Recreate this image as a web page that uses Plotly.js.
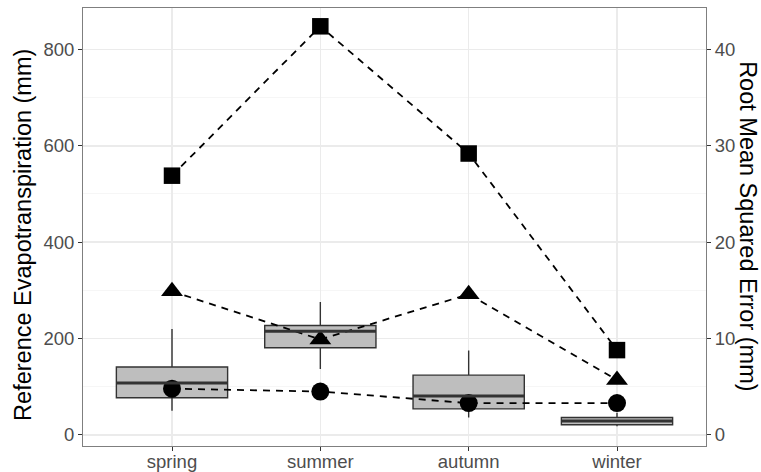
<!DOCTYPE html>
<html>
<head>
<meta charset="utf-8">
<script src="https://cdn.plot.ly/plotly-3.0.1.min.js"></script>
<style>html,body{margin:0;padding:0;background:#fff;}#chart{width:761px;height:472px;}</style>
</head>
<body>
<div id="chart"></div>
<script>
// Categories
var seasons = ["spring", "summer", "autumn", "winter"];
// Box statistics of reference evapotranspiration (mm)
var etLower  = [50, 137, 36, 18];
var etQ1     = [77, 181, 54, 21];
var etMedian = [108, 215, 81, 29];
var etQ3     = [141, 227, 124, 36];
var etUpper  = [220, 276, 175, 46];
// Root mean squared error series (mm)
var rmseCircle   = [4.8, 4.5, 3.3, 3.3];
var rmseTriangle = [14.9, 9.9, 14.6, 5.7];
var rmseSquare   = [26.9, 42.4, 29.2, 8.8];

var yRange = [-23, 886];
var ratio = 20;

var font = "Liberation Sans, Arial, sans-serif";

var traces = [
  {
    type: "box", x: seasons, q1: etQ1, median: etMedian, q3: etQ3,
    lowerfence: etLower, upperfence: etUpper,
    fillcolor: "#BEBEBE", line: {color: "#333333", width: 1.4},
    whiskerwidth: 0, width: 0.75, boxpoints: false, showlegend: false,
    hoverinfo: "skip"
  }
];
function series(vals, sym, size) {
  return {
    type: "scatter", mode: "lines+markers", x: seasons, y: vals, yaxis: "y2",
    line: {color: "#000", width: 1.8, dash: "7px,6px"},
    marker: {symbol: sym, size: size, color: "#000"},
    showlegend: false, cliponaxis: false
  };
}
traces.push(series(rmseCircle, "circle", 18));
traces.push(series(rmseTriangle, "triangle-up", 19));
traces.push(series(rmseSquare, "square", 16.5));

// thicker median lines (ggplot style), positioned from the data
var shapes = seasons.map(function (s, i) {
  return {type: "line", xref: "x", yref: "y", x0: i - 0.375, x1: i + 0.375,
          y0: etMedian[i], y1: etMedian[i], line: {color: "#333333", width: 3}, layer: "above"};
});

var layout = {
  width: 761, height: 472,
  margin: {l: 83, r: 55, t: 8, b: 26},
  paper_bgcolor: "#fff", plot_bgcolor: "#fff",
  font: {family: font, color: "#4D4D4D", size: 19},
  showlegend: false,
  shapes: [],
  xaxis: {
    type: "category", range: [-0.6, 3.6],
    showgrid: true, gridcolor: "#EBEBEB", gridwidth: 1.4,
    ticks: "outside", ticklen: 4, tickcolor: "#333333", tickwidth: 1,
    ticklabelstandoff: -5,
    showline: true, mirror: true, linecolor: "#7F7F7F", linewidth: 1,
    tickfont: {family: font, size: 18.5, color: "#4D4D4D"},
    zeroline: false
  },
  yaxis: {
    range: yRange, dtick: 200, tick0: 0,
    showgrid: true, gridcolor: "#EBEBEB", gridwidth: 1.4,
    minor: {dtick: 100, tick0: 0, showgrid: true, gridcolor: "#F5F5F5", gridwidth: 0.9, ticks: ""},
    ticks: "outside", ticklen: 4, tickcolor: "#333333", tickwidth: 1,
    showline: true, mirror: true, linecolor: "#7F7F7F", linewidth: 1,
    tickfont: {family: font, size: 18.5, color: "#4D4D4D"},
    zeroline: false
  },
  yaxis2: {
    overlaying: "y", side: "right",
    range: [yRange[0] / ratio, yRange[1] / ratio], dtick: 10, tick0: 0,
    showgrid: false, zeroline: false,
    ticks: "outside", ticklen: 4, tickcolor: "#333333", tickwidth: 1,
    tickfont: {family: font, size: 18.5, color: "#4D4D4D"}
  },
  annotations: [
    {text: "Reference Evapotranspiration (mm)", xref: "paper", yref: "paper",
     x: -0.0963, y: 0.482, xanchor: "center", yanchor: "middle", textangle: -90,
     showarrow: false, font: {family: font, size: 23.5, color: "#000"}},
    {text: "Root Mean Squared Error (mm)", xref: "paper", yref: "paper",
     x: 1.0674, y: 0.502, xanchor: "center", yanchor: "middle", textangle: 90,
     showarrow: false, font: {family: font, size: 23.5, color: "#000"}}
  ]
};

Plotly.newPlot("chart", traces, layout, {displayModeBar: false, staticPlot: true}).then(function () {
  Plotly.relayout("chart", {shapes: shapes});
});
</script>
</body>
</html>
